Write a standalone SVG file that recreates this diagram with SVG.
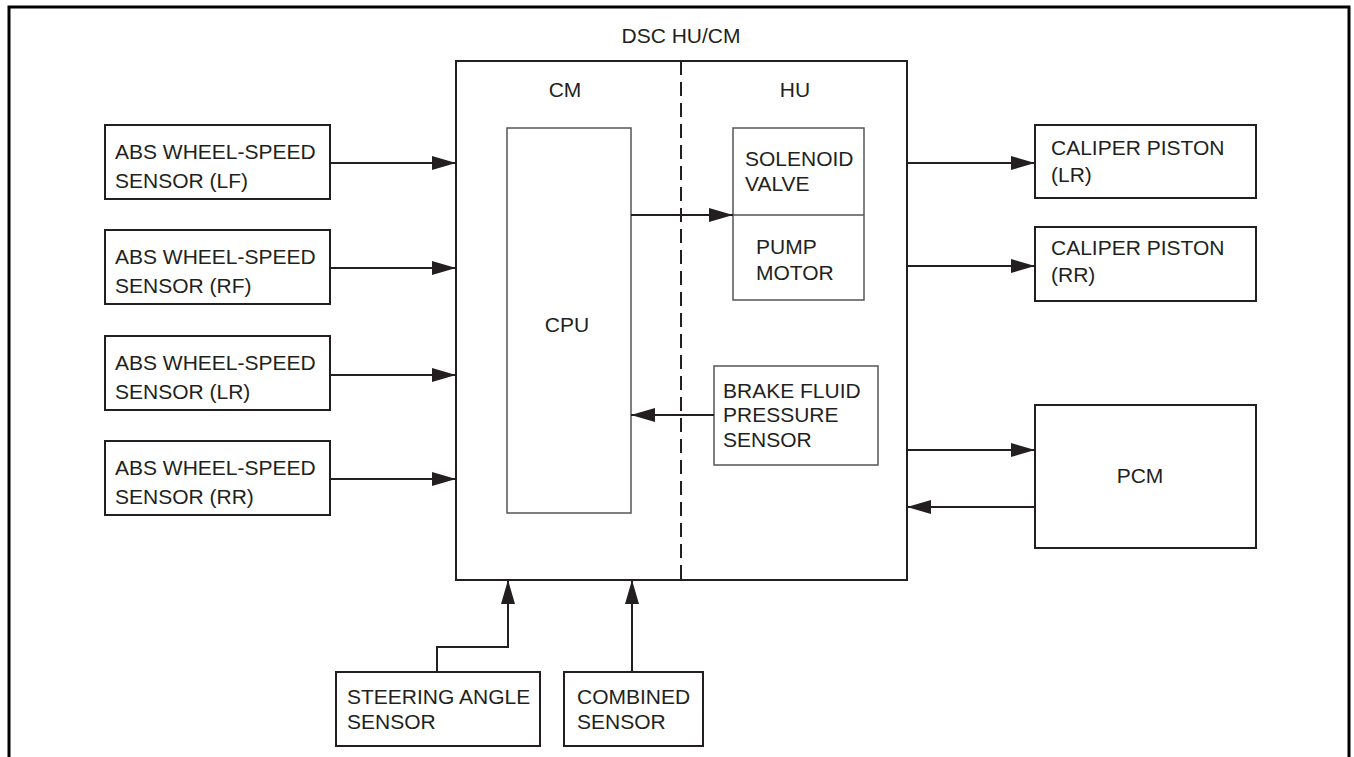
<svg xmlns="http://www.w3.org/2000/svg" width="1354" height="757" viewBox="0 0 1354 757">
<style>
  text { font-family: "Liberation Sans", Arial, sans-serif; font-size: 21px; fill: #231f20; }
  .box { fill: #fff; stroke: #231f20; stroke-width: 2; }
  .inner { fill: #fff; stroke: #555; stroke-width: 1.5; }
  .wire { fill: none; stroke: #231f20; stroke-width: 2; }
  .mid { text-anchor: middle; }
</style>
<defs>
  <marker id="ah" markerWidth="24" markerHeight="14" refX="24" refY="7" orient="auto" markerUnits="userSpaceOnUse">
    <path d="M0,0 L24,7 L0,14 Z" fill="#231f20"/>
  </marker>
</defs>
<rect width="1354" height="757" fill="#fff"/>
<path d="M9,757 V7 H1349 V757" fill="none" stroke="#000" stroke-width="3"/>

<g id="dsc">
  <text x="681" y="43" class="mid">DSC HU/CM</text>
  <rect x="456" y="61" width="451" height="519" class="box"/>
  <line x1="681" y1="61" x2="681" y2="580" stroke="#231f20" stroke-width="2" stroke-dasharray="14,7"/>
  <text x="565" y="97" class="mid">CM</text>
  <text x="795" y="97" class="mid">HU</text>
</g>
<g id="cpu">
  <rect x="507" y="128" width="124" height="385" class="inner"/>
  <text x="567" y="332" class="mid">CPU</text>
</g>
<g id="solenoid-pump">
  <rect x="733" y="128" width="131" height="172" class="inner"/>
  <line x1="733" y1="215" x2="864" y2="215" stroke="#555" stroke-width="1.5"/>
  <text x="745" y="166">SOLENOID</text>
  <text x="745" y="191">VALVE</text>
  <text x="756" y="254">PUMP</text>
  <text x="756" y="280">MOTOR</text>
</g>
<g id="brake-fluid">
  <rect x="714" y="366" width="164" height="99" class="inner"/>
  <text x="723" y="398">BRAKE FLUID</text>
  <text x="723" y="422">PRESSURE</text>
  <text x="723" y="447">SENSOR</text>
</g>

<g id="abs-lf">
  <rect x="105" y="125" width="225" height="74" class="box"/>
  <text x="115" y="159">ABS WHEEL-SPEED</text>
  <text x="115" y="188">SENSOR (LF)</text>
</g>
<g id="abs-rf">
  <rect x="105" y="230" width="225" height="74" class="box"/>
  <text x="115" y="264">ABS WHEEL-SPEED</text>
  <text x="115" y="293">SENSOR (RF)</text>
</g>
<g id="abs-lr">
  <rect x="105" y="336" width="225" height="74" class="box"/>
  <text x="115" y="370">ABS WHEEL-SPEED</text>
  <text x="115" y="399">SENSOR (LR)</text>
</g>
<g id="abs-rr">
  <rect x="105" y="441" width="225" height="74" class="box"/>
  <text x="115" y="475">ABS WHEEL-SPEED</text>
  <text x="115" y="504">SENSOR (RR)</text>
</g>

<g id="caliper-lr">
  <rect x="1035" y="125" width="221" height="73" class="box"/>
  <text x="1051" y="155">CALIPER PISTON</text>
  <text x="1051" y="182">(LR)</text>
</g>
<g id="caliper-rr">
  <rect x="1035" y="227" width="221" height="74" class="box"/>
  <text x="1051" y="255">CALIPER PISTON</text>
  <text x="1051" y="282">(RR)</text>
</g>
<g id="pcm">
  <rect x="1035" y="405" width="221" height="143" class="box"/>
  <text x="1140" y="483" class="mid">PCM</text>
</g>

<g id="steering">
  <rect x="336" y="672" width="204" height="74" class="box"/>
  <text x="347" y="704">STEERING ANGLE</text>
  <text x="347" y="729">SENSOR</text>
</g>
<g id="combined">
  <rect x="564" y="672" width="139" height="74" class="box"/>
  <text x="577" y="704">COMBINED</text>
  <text x="577" y="729">SENSOR</text>
</g>

<g id="connectors" class="wire">
  <line x1="330" y1="163" x2="456" y2="163" marker-end="url(#ah)"/>
  <line x1="330" y1="268" x2="456" y2="268" marker-end="url(#ah)"/>
  <line x1="330" y1="375" x2="456" y2="375" marker-end="url(#ah)"/>
  <line x1="330" y1="479" x2="456" y2="479" marker-end="url(#ah)"/>
  <line x1="631" y1="215" x2="733" y2="215" marker-end="url(#ah)"/>
  <line x1="714" y1="415" x2="631" y2="415" marker-end="url(#ah)"/>
  <line x1="907" y1="163" x2="1035" y2="163" marker-end="url(#ah)"/>
  <line x1="907" y1="266" x2="1035" y2="266" marker-end="url(#ah)"/>
  <line x1="907" y1="450" x2="1035" y2="450" marker-end="url(#ah)"/>
  <line x1="1035" y1="507" x2="907" y2="507" marker-end="url(#ah)"/>
  <polyline points="437,672 437,647 508,647 508,580" marker-end="url(#ah)"/>
  <line x1="632" y1="672" x2="632" y2="580" marker-end="url(#ah)"/>
</g>
</svg>
